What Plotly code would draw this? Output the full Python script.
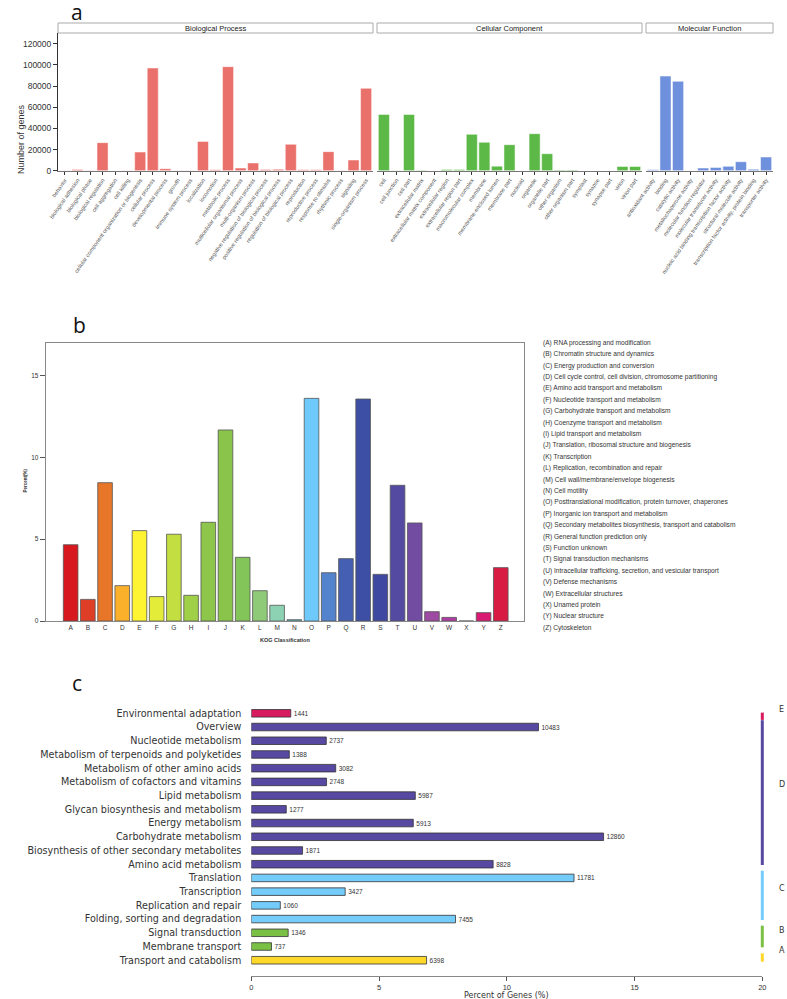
import plotly.graph_objects as go

W, H = 787, 999

# ---------------- Panel a: GO classification ----------------
bp_terms = ["behavior", "biological adhesion", "biological phase", "biological regulation",
            "cell aggregation", "cell killing", "cellular component organization or biogenesis",
            "cellular process", "developmental process", "growth", "immune system process",
            "localization", "locomotion", "metabolic process", "multicellular organismal process",
            "multi-organism process", "negative regulation of biological process",
            "positive regulation of biological process", "regulation of biological process",
            "reproduction", "reproductive process", "response to stimulus", "rhythmic process",
            "signaling", "single-organism process"]
bp_counts = [150, 1200, 100, 26500, 60, 80, 17600, 97000, 1900, 200, 300,
             27700, 900, 98300, 2500, 7300, 1200, 1300, 24900,
             800, 800, 18000, 80, 10100, 77800]

cc_terms = ["cell", "cell junction", "cell part", "extracellular matrix",
            "extracellular matrix component", "extracellular region", "extracellular region part",
            "macromolecular complex", "membrane", "membrane-enclosed lumen", "membrane part",
            "nucleoid", "organelle", "organelle part", "other organism", "other organism part",
            "symplast", "synapse", "synapse part", "virion", "virion part"]
cc_counts = [53200, 150, 53100, 400, 50, 1100, 1100,
             34400, 26800, 4300, 24600, 60, 35000, 16100, 600, 600,
             40, 50, 50, 4000, 4000]

mf_terms = ["antioxidant activity", "binding", "catalytic activity", "metallochaperone activity",
            "molecular function regulator", "molecular transducer activity",
            "nucleic acid binding transcription factor activity", "structural molecule activity",
            "transcription factor activity, protein binding", "transporter activity"]
mf_counts = [800, 89400, 84400, 60, 2500, 3100, 4100, 8500, 1300, 12900]

go_ontologies = ["Biological Process", "Cellular Component", "Molecular Function"]
go_colors = ["#EA716B", "#5DB947", "#6F90DD"]
go_yticks = [0, 20000, 40000, 60000, 80000, 100000, 120000]
go_yticktext = ["0", "20000", "40000", "60000", "80000", "100000", "120000"]

# ---------------- Panel b: KOG classification ----------------
kog_codes = list("ABCDEFGHIJKLMNOPQRSTUVWXYZ")
kog_percent = [4.66, 1.32, 8.45, 2.16, 5.52, 1.49, 5.30, 1.57, 6.03, 11.67, 3.89, 1.85, 0.96,
               0.08, 13.60, 2.95, 3.81, 13.56, 2.85, 8.29, 5.99, 0.57, 0.22, 0.0, 0.51, 3.26]
kog_colors = ["#D7191F", "#DE3E26", "#E87629", "#FBB02C", "#FEF432", "#E4EC3A", "#C3DE40",
              "#A0CF48", "#8DC64A", "#8BC44B", "#84C55A", "#8FCA78", "#8ED2B4", "#5FBFC5",
              "#6DCAFA", "#5383CD", "#4560B2", "#3C4FA4", "#3F48A0", "#544AA2", "#714CA1",
              "#9D4AA3", "#B03CA5", "#C0308C", "#DA1A72", "#D81B43"]
kog_desc = ["(A) RNA processing and modification",
            "(B) Chromatin structure and dynamics",
            "(C) Energy production and conversion",
            "(D) Cell cycle control, cell division, chromosome partitioning",
            "(E) Amino acid transport and metabolism",
            "(F) Nucleotide transport and metabolism",
            "(G) Carbohydrate transport and metabolism",
            "(H) Coenzyme transport and metabolism",
            "(I) Lipid transport and metabolism",
            "(J) Translation, ribosomal structure and biogenesis",
            "(K) Transcription",
            "(L) Replication, recombination and repair",
            "(M) Cell wall/membrane/envelope biogenesis",
            "(N) Cell motility",
            "(O) Posttranslational modification, protein turnover, chaperones",
            "(P) Inorganic ion transport and metabolism",
            "(Q) Secondary metabolites biosynthesis, transport and catabolism",
            "(R) General function prediction only",
            "(S) Function unknown",
            "(T) Signal transduction mechanisms",
            "(U) Intracellular trafficking, secretion, and vesicular transport",
            "(V) Defense mechanisms",
            "(W) Extracellular structures",
            "(X) Unamed protein",
            "(Y) Nuclear structure",
            "(Z) Cytoskeleton"]

# ---------------- Panel c: KEGG classification ----------------
kegg_pathways = ["Environmental adaptation", "Overview", "Nucleotide metabolism",
                 "Metabolism of terpenoids and polyketides", "Metabolism of other amino acids",
                 "Metabolism of cofactors and vitamins", "Lipid metabolism",
                 "Glycan biosynthesis and metabolism", "Energy metabolism",
                 "Carbohydrate metabolism", "Biosynthesis of other secondary metabolites",
                 "Amino acid metabolism", "Translation", "Transcription",
                 "Replication and repair", "Folding, sorting and degradation",
                 "Signal transduction", "Membrane transport", "Transport and catabolism"]
kegg_counts = [1441, 10483, 2737, 1388, 3082, 2748, 5987, 1277, 5913, 12860, 1871, 8828,
               11781, 3427, 1060, 7455, 1346, 737, 6398]
kegg_percent = [1.545, 11.24, 2.934, 1.488, 3.304, 2.946, 6.419, 1.369, 6.340, 13.788, 2.006,
                9.465, 12.631, 3.674, 1.136, 7.993, 1.443, 0.790, 6.860]
kegg_class = ["E", "D", "D", "D", "D", "D", "D", "D", "D", "D", "D", "D",
              "C", "C", "C", "C", "B", "B", "A"]
class_order = ["E", "D", "C", "B", "A"]
class_colors = {"E": "#D81A5E", "D": "#5748A2", "C": "#74CCFA", "B": "#79C044", "A": "#FDD72A"}


def px(x):
    return x / W


def py(y):
    return 1 - y / H


FONT = "Liberation Sans, Arial, sans-serif"
fig = go.Figure()

# ---- panel a traces ----
a_xdom = [(58, 373), (377, 642), (646, 773)]
a_ydom = [py(170.7), py(33)]
a_terms = [bp_terms, cc_terms, mf_terms]
a_counts = [bp_counts, cc_counts, mf_counts]
for i in range(3):
    fig.add_trace(go.Bar(x=a_terms[i], y=a_counts[i], marker_color=go_colors[i],
                         marker_line=dict(color="rgba(255,255,255,0.8)", width=0.6),
                         width=0.88, xaxis="x" if i == 0 else f"x{i+1}",
                         yaxis="y" if i == 0 else f"y{i+1}", showlegend=False))

# ---- panel b ----
fig.add_trace(go.Bar(x=kog_codes, y=kog_percent, marker_color=kog_colors,
                     marker_line=dict(color="#555", width=0.8), width=0.85,
                     xaxis="x4", yaxis="y4", showlegend=False))

# ---- panel c ----
fig.add_trace(go.Bar(y=kegg_pathways, x=kegg_percent, orientation="h",
                     marker_color=[class_colors[c] for c in kegg_class],
                     marker_line=dict(color="#333", width=0.8), width=0.55,
                     text=[str(v) for v in kegg_counts], textposition="outside",
                     constraintext="none", cliponaxis=False,
                     textfont=dict(size=6.5, color="#333", family=FONT),
                     xaxis="x5", yaxis="y5", showlegend=False))

layout = dict(width=W, height=H, margin=dict(l=0, r=0, t=0, b=0, pad=0, autoexpand=False),
              autosize=False,
              paper_bgcolor="white", plot_bgcolor="white",
              font=dict(family=FONT, color="#333"), bargap=0.1)

a_ranges = [[-0.55, 24.55], [-0.55, 20.55], [-0.55, 9.55]]
for i in range(3):
    xk = "xaxis" if i == 0 else f"xaxis{i+1}"
    yk = "yaxis" if i == 0 else f"yaxis{i+1}"
    layout[xk] = dict(domain=[px(a_xdom[i][0]), px(a_xdom[i][1])], type="category",
                      range=a_ranges[i], anchor="y" if i == 0 else f"y{i+1}",
                      showline=True, linecolor="#777", linewidth=1, automargin=False,
                      ticks="outside", ticklen=3, tickcolor="#333",
                      tickangle=-55, tickfont=dict(size=5.6, color="#555"),
                      showgrid=False, zeroline=False)
    layout[yk] = dict(domain=a_ydom, range=[0, 130100], anchor="x" if i == 0 else f"x{i+1}",
                      showgrid=False, zeroline=False, automargin=False,
                      showline=(i == 0), linecolor="#333", linewidth=1,
                      ticks="outside" if i == 0 else "", ticklen=4, tickcolor="#333",
                      tickvals=go_yticks, ticktext=go_yticktext,
                      showticklabels=(i == 0), tickfont=dict(size=8.5, color="#333"))

layout["xaxis4"] = dict(domain=[px(45.7), px(524)], type="category", range=[-1.45, 26.35],
                        anchor="y4", showline=True, mirror=True, linecolor="#888", linewidth=1,
                        automargin=False,
                        ticks="", tickfont=dict(size=6.5, color="#333"), showgrid=False)
layout["yaxis4"] = dict(domain=[py(621), py(342.7)], range=[0, 17], anchor="x4",
                        showline=True, mirror=True, linecolor="#888", linewidth=1,
                        automargin=False,
                        ticks="outside", ticklen=5, tickcolor="#555",
                        tickvals=[0, 5, 10, 15], tickfont=dict(size=6.5, color="#333"),
                        showgrid=False, zeroline=False)

layout["xaxis5"] = dict(domain=[px(251.3), px(762.3)], range=[0, 20], anchor="y5",
                        showline=True, linecolor="#888", linewidth=1, automargin=False,
                        ticks="outside", ticklen=4, tickcolor="#555",
                        tickvals=[0, 5, 10, 15, 20], tickfont=dict(size=7.5, color="#333"),
                        showgrid=False, zeroline=False)
layout["yaxis5"] = dict(domain=[py(976), py(700)], type="category", range=[19.15, -0.97],
                        anchor="x5", showline=False, ticks="", ticklabelstandoff=9,
                        automargin=False,
                        tickfont=dict(size=9.6, color="#333", family="DejaVu Sans"),
                        showgrid=False, zeroline=False)

shapes = []
annotations = []

# strip headers for panel a
for i in range(3):
    x0, x1 = a_xdom[i]
    shapes.append(dict(type="rect", xref="paper", yref="paper", x0=px(x0), x1=px(x1),
                       y0=py(33), y1=py(23), line=dict(color="#aaa", width=1),
                       fillcolor="white"))
    annotations.append(dict(text=go_ontologies[i], xref="paper", yref="paper",
                            x=px((x0 + x1) / 2), y=py(28), showarrow=False,
                            font=dict(size=7.5, color="#222"), xanchor="center",
                            yanchor="middle"))

annotations.append(dict(text="Number of genes", xref="paper", yref="paper", x=px(14),
                        y=py(102), textangle=-90, showarrow=False,
                        font=dict(size=9, color="#333")))

# panel letters
for letter, (lx, ly) in zip(["a", "b", "c"], [(77, 12), (79, 325), (77, 683)]):
    annotations.append(dict(text=letter, xref="paper", yref="paper", x=px(lx), y=py(ly),
                            showarrow=False, font=dict(size=21, color="#111", family="Open Sans"),
                            xanchor="center", yanchor="middle"))

# panel b titles and legend text
annotations.append(dict(text="<b>Percent(%)</b>", xref="paper", yref="paper", x=px(21),
                        y=py(481), textangle=-90, showarrow=False,
                        font=dict(size=4.5, color="#333")))
annotations.append(dict(text="<b>KOG Classification</b>", xref="paper", yref="paper",
                        x=px(285), y=py(640), showarrow=False,
                        font=dict(size=5.5, color="#333")))
for i, d in enumerate(kog_desc):
    annotations.append(dict(text=d, xref="paper", yref="paper", x=px(541),
                            y=py(342.7 + 11.4 * i), xanchor="left", yanchor="middle",
                            showarrow=False, font=dict(size=6.6, color="#333")))

# panel c x title
annotations.append(dict(text="Percent of Genes (%)", xref="paper", yref="paper",
                        x=px(506.8), y=py(995.5), showarrow=False, yanchor="middle",
                        font=dict(size=8, color="#333", family="DejaVu Sans")))


# panel c class bars on right
def row_px(r):
    return 700 + (r + 0.97) / (19.15 + 0.97) * 276


class_span = {"E": (-0.05, 0.48), "D": (0.5, 11.06), "C": (11.47, 15.07),
              "B": (15.48, 17.06), "A": (17.5, 18.11)}
class_label_row = {"E": -0.3, "D": 5.2, "C": 12.8, "B": 15.8, "A": 17.3}
for c in class_order:
    r0, r1 = class_span[c]
    shapes.append(dict(type="line", xref="paper", yref="paper", x0=px(762.3), x1=px(762.3),
                       y0=py(row_px(r0)), y1=py(row_px(r1)),
                       line=dict(color=class_colors[c], width=3)))
    annotations.append(dict(text=c, xref="paper", yref="paper", x=px(781.7),
                            y=py(row_px(class_label_row[c])), showarrow=False,
                            xanchor="center", yanchor="middle",
                            font=dict(size=8, color="#333", family="DejaVu Sans")))

layout["shapes"] = shapes
layout["annotations"] = annotations
fig.update_layout(**layout)

fig.write_html("out.html", config={"displayModeBar": False},
               post_script="document.documentElement.style.margin='0';"
                           "document.body.style.margin='0';"
                           "document.body.style.overflow='hidden';")
